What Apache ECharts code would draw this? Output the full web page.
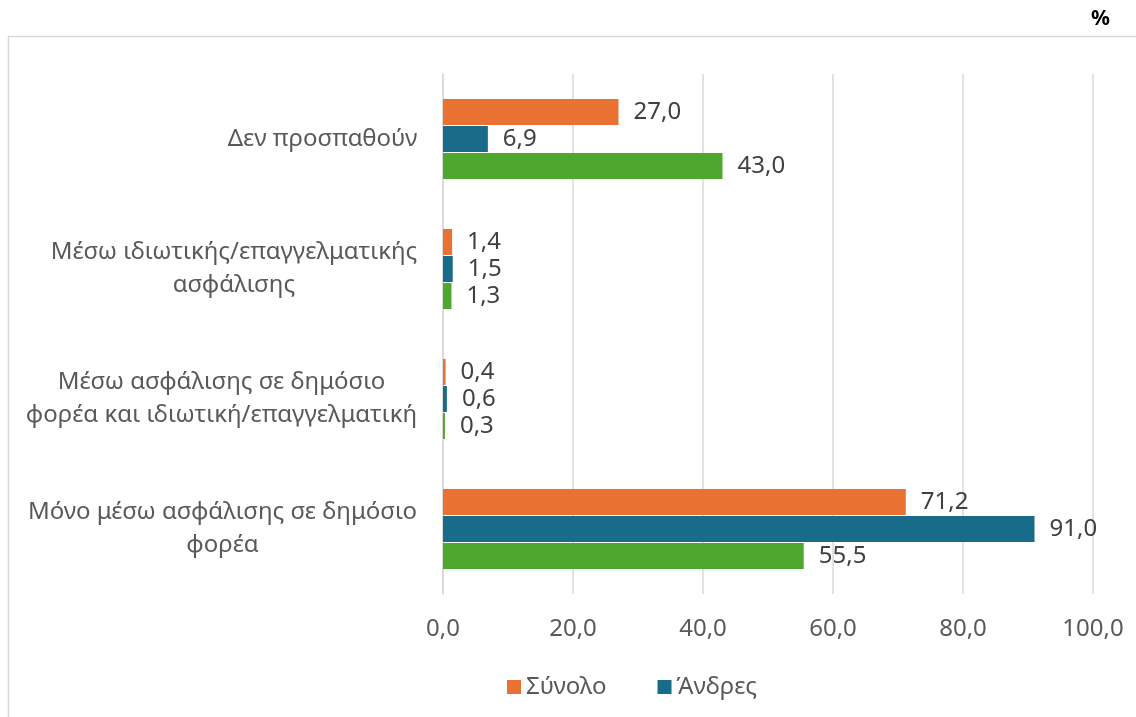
<!DOCTYPE html>
<html>
<head>
<meta charset="utf-8">
<script src="https://cdn.jsdelivr.net/npm/echarts@6/dist/echarts.min.js"></script>
<style>html,body{margin:0;padding:0;background:#fff}#c{width:1136px;height:717px}</style>
</head>
<body>
<div id="c"></div>
<script>
const categories = [
  "Δεν προσπαθούν",
  "Μέσω ιδιωτικής/επαγγελματικής\nασφάλισης",
  "Μέσω ασφάλισης σε δημόσιο\nφορέα και ιδιωτική/επαγγελματική",
  "Μόνο μέσω ασφάλισης σε δημόσιο\nφορέα"
];
const seriesNames = ["Σύνολο", "Άνδρες", "Γυναίκες"];
const totalValues = [27.0, 1.4, 0.4, 71.2];
const menValues = [6.9, 1.5, 0.6, 91.0];
const womenValues = [43.0, 1.3, 0.3, 55.5];
const xTicks = [0, 20, 40, 60, 80, 100];

const FONT = "Noto Sans";
const FS = 24;
const colors = ["#E97132", "#196B8A", "#4EA72E"];
const fmt = v => Number(v).toFixed(1).replace('.', ',');

// measure each category label block so that its lines are centred on each other
const ctx = document.createElement('canvas').getContext('2d');
ctx.font = FS + 'px "' + FONT + '"';
const rich = {};
categories.forEach((c, i) => {
  const w = Math.max(...c.split('\n').map(l => ctx.measureText(l).width));
  rich['c' + i] = {width: Math.ceil(w) + 1, align: 'center', fontSize: FS, color: '#595959', fontFamily: FONT, lineHeight: 33};
});

const chart = echarts.init(document.getElementById('c'), null, {renderer: 'canvas'});
function mk(name, data, color) {
  return {
    name, type: 'bar', data, barWidth: 26, barGap: '4%',
    itemStyle: {color},
    label: {show: true, position: 'right', distance: 15, color: '#404040', fontSize: FS, fontFamily: FONT,
      formatter: p => fmt(p.value)}
  };
}
chart.setOption({
  animation: false,
  textStyle: {fontFamily: FONT},
  graphic: [
    {type: 'rect', shape: {x: 8.5, y: 36.5, width: 1300, height: 900}, style: {fill: 'none', stroke: '#d9d9d9', lineWidth: 1.5}, silent: true},
    {type: 'text', left: 1091, top: 9, style: {text: '%', fontSize: 21, fontWeight: 'bold', fill: '#000', fontFamily: FONT}}
  ],
  grid: {left: 443, right: 43, top: 74, bottom: 123, containLabel: false},
  legend: {
    data: [seriesNames[0], seriesNames[1]],
    left: 502, top: 670, itemWidth: 14, itemHeight: 14, itemGap: 51, icon: 'rect',
    textStyle: {fontSize: FS, color: '#595959', fontFamily: FONT}
  },
  xAxis: {
    type: 'value', min: xTicks[0], max: xTicks[xTicks.length - 1], interval: 20,
    axisLine: {show: false}, axisTick: {show: false},
    splitLine: {lineStyle: {color: '#d9d9d9', width: 1.5}},
    axisLabel: {fontSize: FS, color: '#595959', margin: 23, fontFamily: FONT, formatter: v => fmt(v)}
  },
  yAxis: {
    type: 'category', data: categories, inverse: true,
    axisLine: {show: true, lineStyle: {color: '#d9d9d9', width: 1.5}},
    axisTick: {show: false},
    axisLabel: {
      margin: 25, align: 'right', fontFamily: FONT, fontSize: FS, color: '#595959',
      formatter: (v, i) => v.split('\n').map(l => '{c' + i + '|' + l + '}').join('\n'),
      rich
    }
  },
  series: [
    mk(seriesNames[0], totalValues, colors[0]),
    mk(seriesNames[1], menValues, colors[1]),
    mk(seriesNames[2], womenValues, colors[2])
  ]
});
</script>
</body>
</html>
